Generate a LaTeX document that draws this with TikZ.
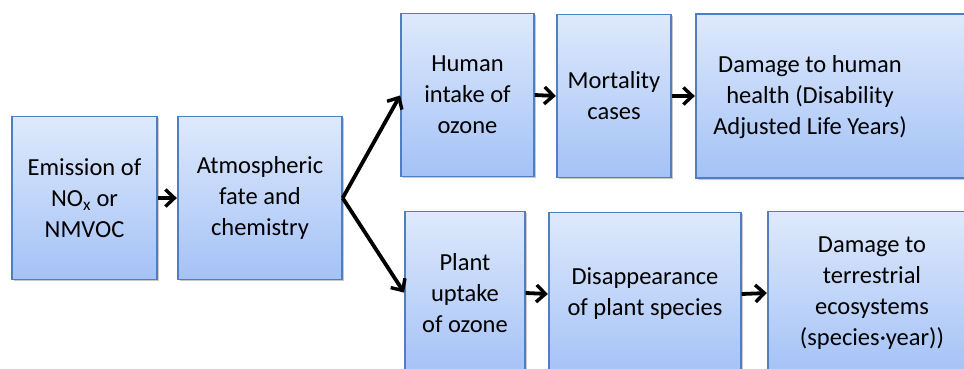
\documentclass[tikz,border=0pt]{standalone}
\usepackage{fontspec}
\setmainfont{Carlito}
\usetikzlibrary{arrows.meta,shadows}
\definecolor{boxtop}{HTML}{DEE9FC}
\definecolor{boxbot}{HTML}{A4C2F6}
\definecolor{boxline}{HTML}{4F7FC0}
\tikzset{
  stepbox/.style={draw=boxline, line width=1.3pt, top color=boxtop, bottom color=boxbot,
    minimum height=163pt, inner sep=0pt, align=center,
    drop shadow={shadow xshift=1.5pt, shadow yshift=-1.5pt, opacity=0.35, fill=black!60},
    font=\fontsize{24.5}{31}\selectfont},
  boxtext/.style={inner sep=0pt, align=center, font=\fontsize{24.5}{31}\selectfont},
  flow/.style={draw=black, line width=3.8pt, -{Straight Barb[length=9pt,width=17pt,line width=3.4pt]}, shorten >=0.5pt}
}
\begin{document}
\begin{tikzpicture}[x=1pt,y=-1pt]
\useasboundingbox (0,0) rectangle (964,369);
\clip (0,0) rectangle (964,369);
\fill[white] (0,0) rectangle (964,369);
% top row
\node[stepbox, minimum width=145pt] (b1) at (84.5,198) {Emission of\\NO\textsubscript{x} or\\NMVOC};
\node[stepbox, minimum width=164pt] (b2) at (260,198) {Atmospheric\\fate and\\chemistry};
\node[stepbox, minimum width=133pt] (b3) at (467.5,95) {Human\\intake of\\ozone};
\node[stepbox, minimum width=114pt] (b4) at (614,96) {Mortality\\cases};
\node[stepbox, minimum width=280pt, minimum height=164pt] (b5) at (836,96) {};
\node[boxtext] (t5) at (810,97) {Damage to human\\health (Disability\\Adjusted Life Years)};
% bottom row
\node[stepbox, minimum width=120pt] (b6) at (465,293) {Plant\\uptake\\of ozone};
\node[stepbox, minimum width=192pt] (b7) at (645,294) {Disappearance\\of plant species};
\node[stepbox, minimum width=208pt] (b8) at (872,293) {Damage to\\terrestrial\\ecosystems\\(species·year))};
% connectors
\draw[flow] (b1.east) -- (b2.west);
\draw[flow] (b2.east) -- (b3.west);
\draw[flow] (b2.east) -- (b6.west);
\draw[flow] (b3.east) -- (b4.west);
\draw[flow] (b4.east) -- (b5.west);
\draw[flow] (b6.east) -- (b7.west);
\draw[flow] (b7.east) -- (b8.west);
\end{tikzpicture}
\end{document}
